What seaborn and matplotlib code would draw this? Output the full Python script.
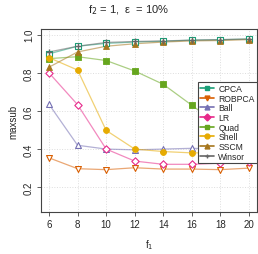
import matplotlib
matplotlib.use("Agg")
import matplotlib.pyplot as plt
from matplotlib.lines import Line2D
import seaborn as sns
import pandas as pd

f1 = [6, 8, 10, 12, 14, 16, 18, 20]
methods = ["CPCA", "ROBPCA", "Ball", "LR", "Quad", "Shell", "SSCM", "Winsor"]
cpca   = [0.90, 0.94, 0.955, 0.962, 0.966, 0.972, 0.974, 0.978]
robpca = [0.354, 0.297, 0.292, 0.302, 0.295, 0.295, 0.292, 0.300]
ball   = [0.635, 0.42, 0.40, 0.396, 0.40, 0.404, 0.40, 0.40]
lr     = [0.80, 0.633, 0.40, 0.337, 0.32, 0.32, 0.326, 0.33]
quad   = [0.875, 0.885, 0.865, 0.81, 0.74, 0.63, 0.52, 0.45]
shell  = [0.88, 0.815, 0.498, 0.40, 0.387, 0.38, 0.38, 0.38]
sscm   = [0.83, 0.91, 0.94, 0.953, 0.962, 0.968, 0.970, 0.975]
winsor = [0.91, 0.94, 0.96, 0.965, 0.968, 0.972, 0.975, 0.978]
values = [cpca, robpca, ball, lr, quad, shell, sscm, winsor]

colors = ["#1b9e77", "#d95f02", "#7570b3", "#e7298a", "#66a61e", "#e6ab02", "#a6761d", "#666666"]
markers = ["s", "v", "^", "D", "s", "o", "^", "+"]
filled = [False, False, False, False, True, True, True, True]

sns.set_style("white")
plt.rcParams['font.family'] = ['Liberation Sans', 'DejaVu Sans']

fig = plt.figure(figsize=(2.58, 2.55), dpi=100)
ax = fig.add_axes([0.159, 0.165, 0.837, 0.717])

for m, v, c, mk, fl in zip(methods, values, colors, markers, filled):
    df = pd.DataFrame({"f1": f1, "val": v})
    sns.lineplot(data=df, x="f1", y="val", color=c, alpha=0.55, lw=0.9, ax=ax)
    ms = 18 if mk != "D" else 14
    if mk == "+":
        sns.scatterplot(data=df, x="f1", y="val", color=c, marker="+", s=22,
                        linewidth=1.0, ax=ax, zorder=3)
    elif fl:
        sns.scatterplot(data=df, x="f1", y="val", color=c, marker=mk, s=ms,
                        edgecolor=c, linewidth=0.6, ax=ax, zorder=3)
    else:
        sns.scatterplot(data=df, x="f1", y="val", marker=mk, s=ms, facecolor="white",
                        edgecolor=c, linewidth=0.8, ax=ax, zorder=3)

ax.set_xlim(5.44, 20.56)
ax.set_ylim(0.07, 1.03)
ax.set_xticks(f1)
ax.set_yticks([0.2, 0.4, 0.6, 0.8, 1.0])
ax.set_yticklabels(["0.2", "0.4", "0.6", "0.8", "1.0"], rotation=90, va="center")
ax.tick_params(axis="both", labelsize=7, length=3, width=0.6, color="#444444", direction="out", pad=2)
ax.tick_params(axis="x", bottom=True)
ax.tick_params(axis="y", left=True)
ax.grid(True, color="#dddddd", linestyle=":", linewidth=0.7)
for s in ax.spines.values():
    s.set_color("#444444")
    s.set_linewidth(0.8)
ax.set_xlabel("f$_1$", fontsize=7, labelpad=6)
ax.set_ylabel("maxsub", fontsize=7, labelpad=4)
fig.suptitle("f$_2$ = 1,  ε  = 10%", fontsize=8, y=0.985)

handles = [Line2D([0], [0], color=c, marker=mk, markersize=3.5, lw=1.2,
                  markerfacecolor=c, markeredgecolor=c)
           for c, mk in zip(colors, markers)]
leg = ax.legend(handles, methods, loc="upper right", bbox_to_anchor=(1.0, 0.712),
                fontsize=6.2, frameon=True, fancybox=False, framealpha=1,
                edgecolor="#444444", borderpad=0.25, labelspacing=0.08,
                handlelength=1.6, handletextpad=0.5, borderaxespad=0)
leg.get_frame().set_linewidth(0.8)

fig.savefig("out.png", dpi=100)
